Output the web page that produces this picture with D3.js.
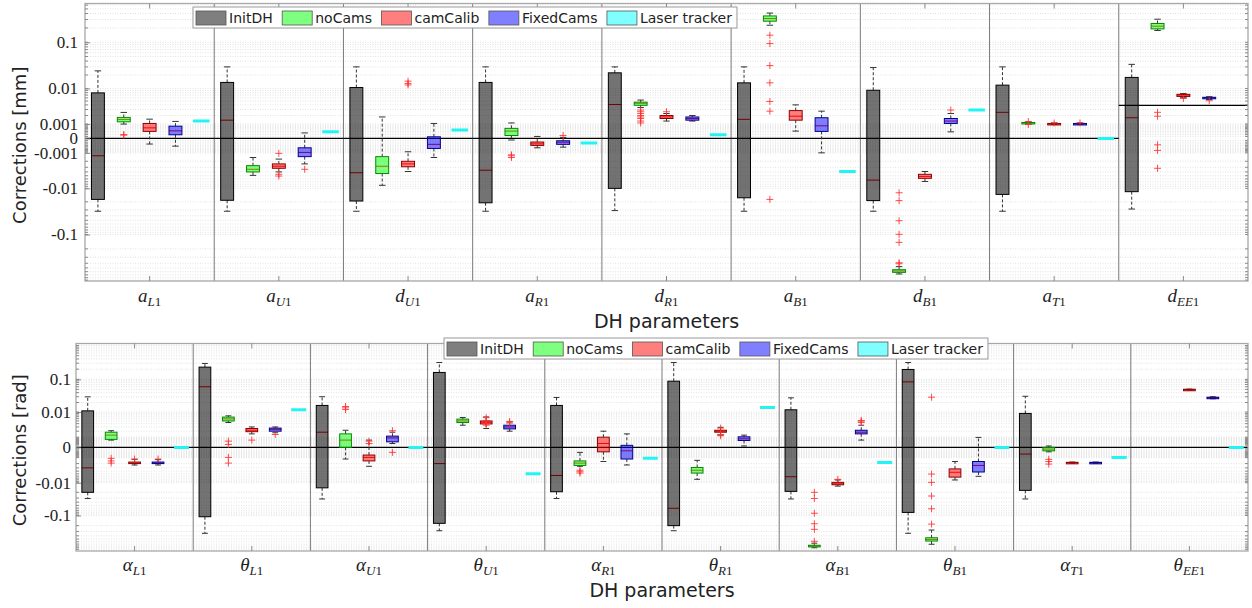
<!DOCTYPE html>
<html>
<head>
<meta charset="utf-8">
<script src="https://cdn.jsdelivr.net/npm/d3@7"></script>
<style>
  body { margin: 0; background: #fff; }
  svg { display: block; }
  text { font-family: "DejaVu Sans", sans-serif; }
</style>
</head>
<body>
<svg id="chart" width="1252" height="608"></svg>
<script>
const seriesNames = ["InitDH", "noCams", "camCalib", "FixedCams", "Laser tracker"];
const seriesColors = ["#000000", "#00ff00", "#ff0000", "#0000ff", "#00ffff"];

// ---------- top panel: length parameters [mm] ----------
const topParams = [["a","L1"],["a","U1"],["d","U1"],["a","R1"],["d","R1"],["a","B1"],["d","B1"],["a","T1"],["d","EE1"]];
const topTicks = [0.1, 0.01, 0.001, 0, -0.001, -0.01, -0.1];
// box stats: [lower whisker, q1, median, q3, upper whisker]
const topInitDH = [
  [-0.032, -0.0177, -0.0013, 0.0079, 0.0246],
  [-0.032, -0.0185, 0.0014, 0.0137, 0.030],
  [-0.032, -0.0192, -0.0042, 0.0105, 0.030],
  [-0.032, -0.021, -0.0036, 0.0137, 0.030],
  [-0.031, -0.010, 0.0041, 0.0223, 0.030],
  [-0.032, -0.0163, 0.0015, 0.0134, 0.030],
  [-0.032, -0.0188, -0.0064, 0.0091, 0.029],
  [-0.032, -0.0137, 0.0025, 0.0119, 0.030],
  [-0.0287, -0.0119, 0.0017, 0.0177, 0.034]
];
const topNoCams = [
  [0.00099, 0.00122, 0.00149, 0.00174, 0.00248],
  [-0.0049, -0.0040, -0.0034, -0.0027, -0.0015],
  [-0.0085, -0.0044, -0.0028, -0.0014, 0.0018],
  [-0.00008, 0.00015, 0.00042, 0.00062, 0.0011],
  [0.0034, 0.0039, 0.0044, 0.0047, 0.0053],
  [0.228, 0.277, 0.315, 0.357, 0.41],
  [-0.67, -0.62, -0.58, -0.546, -0.47],
  [0.001, 0.00105, 0.0011, 0.00115, 0.0012],
  [0.177, 0.191, 0.218, 0.248, 0.305]
];
const topNoCamsOut = [
  [0.00017, 0.0002], [], [], [-0.0012, -0.0013, -0.0015],
  [0.0029, 0.0026, 0.0023, 0.002, 0.0018, 0.0016, 0.0013, 0.0011],
  [0.141, 0.094, 0.032, 0.0134, 0.0049, 0.0027, -0.0177],
  [-0.0126, -0.0188, -0.051, -0.099, -0.146, -0.39, -0.41],
  [0.00095, 0.00125],
  [0.0025, 0.0019, -0.00036, -0.00078, -0.0032]
];
const topCamCalib = [
  [-0.00031, 0.0004, 0.00066, 0.00105, 0.00152],
  [-0.004, -0.0032, -0.0028, -0.0024, -0.0017],
  [-0.0039, -0.0029, -0.0024, -0.002, -0.0009],
  [-0.00057, -0.0004, -0.0003, -0.00019, 0.0001],
  [0.0013, 0.0016, 0.0018, 0.002, 0.0023],
  [0.00042, 0.0014, 0.0019, 0.0028, 0.004],
  [-0.0069, -0.0058, -0.0052, -0.0046, -0.0039],
  [0.00095, 0.001, 0.00102, 0.00105, 0.0011],
  [0.0062, 0.0065, 0.007, 0.0073, 0.0076]
];
const topCamCalibOut = [
  [], [-0.00105, -0.0046, -0.0051], [0.012, 0.013, 0.0146], [], [0.0026], [], [], [0.0011], [0.0058]
];
const topFixedCams = [
  [-0.00045, 0.00019, 0.00044, 0.0008, 0.00126],
  [-0.0024, -0.0014, -0.00096, -0.00057, 0.0003],
  [-0.0015, -0.00062, -0.00033, 0.00008, 0.00105],
  [-0.00052, -0.00033, -0.0002, -0.00012, 0.00005],
  [0.0013, 0.0014, 0.0016, 0.0018, 0.002],
  [-0.001, 0.0004, 0.00083, 0.0017, 0.0027],
  [0.00037, 0.00105, 0.0013, 0.0016, 0.0023],
  [0.00095, 0.001, 0.00102, 0.00105, 0.0011],
  [0.0055, 0.0057, 0.006, 0.0062, 0.0064]
];
const topFixedCamsOut = [[], [-0.0034], [], [0.00015], [], [], [0.0029], [0.0011], [0.0051]];
const topLaser = [0.0013, 0.00037, 0.00049, -0.00024, 0.00019, -0.0039, 0.0029, 0, null];
const topRefLine = [0, 0, 0, 0, 0, 0, 0, 0, 0.0039];

// ---------- bottom panel: angle parameters [rad] ----------
const botParams = [["α","L1"],["θ","L1"],["α","U1"],["θ","U1"],["α","R1"],["θ","R1"],["α","B1"],["θ","B1"],["α","T1"],["θ","EE1"]];
const botTicks = [0.1, 0.01, 0, -0.01, -0.1];
const botInitDH = [
  [-0.031, -0.020, -0.003, 0.0109, 0.0298],
  [-0.337, -0.109, 0.06, 0.23, 0.295],
  [-0.032, -0.0145, 0.0018, 0.0162, 0.030],
  [-0.283, -0.171, -0.002, 0.16, 0.315],
  [-0.031, -0.0192, -0.0057, 0.0162, 0.0285],
  [-0.283, -0.20, -0.061, 0.088, 0.315],
  [-0.032, -0.0187, -0.0063, 0.0118, 0.0278],
  [-0.337, -0.081, 0.084, 0.196, 0.315],
  [-0.032, -0.0174, -0.00057, 0.009, 0.031],
  null
];
const botNoCams = [
  [0.00064, 0.00072, 0.0013, 0.0018, 0.0021],
  [0.0044, 0.005, 0.0059, 0.0068, 0.0075],
  [-0.0012, 0, 0.00064, 0.0015, 0.0022],
  [0.0035, 0.0044, 0.005, 0.0058, 0.0066],
  [-0.0026, -0.0024, -0.0019, -0.0015, -0.0004],
  [-0.0077, -0.0047, -0.0037, -0.0029, -0.0014],
  [-0.9, -0.85, -0.8, -0.76, -0.66],
  [-0.71, -0.57, -0.51, -0.456, -0.27],
  [-0.00035, -0.00026, -0.00012, 0, 0.0001],
  null
];
const botNoCamsOut = [
  [-0.0011, -0.0015, -0.0019],
  [0.00053, 0.00022, -0.00097, -0.0019],
  [0.012, 0.0136, 0.015],
  [],
  [-0.0037, -0.0042, -0.0047],
  [],
  [-0.020, -0.031, -0.086, -0.176, -0.257, -0.58],
  [0.029, -0.0051, -0.0097, -0.026, -0.063, -0.18],
  [-0.00125, -0.0016, -0.0021],
  []
];
const botCamCalib = [
  [-0.0023, -0.002, -0.0019, -0.0017, -0.00125],
  [0.0015, 0.0019, 0.0022, 0.0026, 0.003],
  [-0.0026, -0.0015, -0.00097, -0.00068, 0.00064],
  [0.0026, 0.0039, 0.0045, 0.005, 0.0069],
  [-0.0016, -0.00035, 0.0003, 0.001, 0.002],
  [0.0013, 0.0018, 0.002, 0.0022, 0.0029],
  [-0.0128, -0.0116, -0.0108, -0.0097, -0.0081],
  [-0.0081, -0.0065, -0.0044, -0.0033, -0.0016],
  [-0.0019, -0.00185, -0.0018, -0.00175, -0.0017],
  [0.048, 0.049, 0.0498, 0.0505, 0.051]
];
const botCamCalibOut = [
  [-0.0012], [0.00064], [0.00053, 0.0003], [0.0065, 0.0052, 0.004, 0.0035], [],
  [0.0027, 0.0014, 0.0012], [-0.0077], [], [], []
];
const botFixedCams = [
  [-0.0023, -0.002, -0.0019, -0.0017, -0.0013],
  [0.0017, 0.002, 0.0024, 0.0027, 0.003],
  [0.0003, 0.00046, 0.0009, 0.00115, 0.0018],
  [0.002, 0.0025, 0.003, 0.0035, 0.0046],
  [-0.0023, -0.0012, -0.00026, 0.00015, 0.0015],
  [0.0001, 0.0006, 0.00079, 0.00105, 0.0013],
  [0.00064, 0.0015, 0.0018, 0.0022, 0.0035],
  [-0.0061, -0.0043, -0.0024, -0.0016, 0.00097],
  [-0.0019, -0.00185, -0.0018, -0.00175, -0.0017],
  [0.026, 0.027, 0.028, 0.029, 0.030]
];
const botFixedCamsOut = [
  [-0.0012], [0.0014], [0.0021, -0.0004], [0.0048, 0.0042], [], [], [0.0044, 0.0049, 0.0052], [], [], []
];
const botLaser = [0, 0.0118, 0, -0.005, -0.0011, 0.014, -0.0018, 0, -0.00097, 0];
const botRefLine = [0, 0, 0, 0, 0, 0, 0, 0, 0, 0];

const svg = d3.select("#chart");

function drawPanel(p) {
  const g = svg.append("g");
  const n = p.params.length;
  const x = d3.scaleBand().domain(d3.range(n)).range([p.left, p.right]);
  const xs = d3.scaleBand().domain(d3.range(5)).range([0, x.bandwidth()]);
  const y = d3.scaleSymlog().constant(0.001).domain(p.domain).range([p.bottom, p.top]);

  const clipId = "clip" + p.id;
  g.append("clipPath").attr("id", clipId).append("rect")
    .attr("x", p.left).attr("y", p.top)
    .attr("width", p.right - p.left).attr("height", p.bottom - p.top);

  // grid (minor + major)
  const minor = [];
  for (let e = -4; e <= 0; e++) {
    for (let k = 1; k <= 9; k++) {
      const v = k * Math.pow(10, e);
      if (v < p.domain[1]) minor.push(v);
      if (-v > p.domain[0]) minor.push(-v);
    }
  }
  const grid = g.append("g").attr("clip-path", `url(#${clipId})`);
  grid.selectAll("line.minor").data(minor).join("line")
    .attr("class", "minor")
    .attr("x1", p.left).attr("x2", p.right)
    .attr("y1", d => y(d)).attr("y2", d => y(d))
    .attr("stroke", "#dcdcdc").attr("stroke-width", 0.8)
    .attr("stroke-dasharray", "1,1.5");

  // group separators
  g.selectAll("line.sep").data(d3.range(1, n)).join("line")
    .attr("class", "sep")
    .attr("x1", d => x(d)).attr("x2", d => x(d))
    .attr("y1", p.top).attr("y2", p.bottom)
    .attr("stroke", "#7a7a7a").attr("stroke-width", 1);

  // reference (zero) line per group
  g.selectAll("line.ref").data(p.refLine).join("line")
    .attr("class", "ref")
    .attr("x1", (d, i) => x(i)).attr("x2", (d, i) => x(i) + x.bandwidth())
    .attr("y1", d => y(d)).attr("y2", d => y(d))
    .attr("stroke", "#000").attr("stroke-width", 1.2);

  const plot = g.append("g").attr("clip-path", `url(#${clipId})`);
  const bw = xs.bandwidth() * 0.5;

  p.boxes.forEach((series, s) => {
    const col = seriesColors[s];
    const edge = d3.interpolateRgb(col, "#000")(s === 0 ? 0.55 : 0.45);
    series.forEach((b, i) => {
      if (!b) return;
      const cx = x(i) + xs(s) + xs.bandwidth() / 2;
      const bg = plot.append("g");
      // whiskers
      bg.append("line").attr("x1", cx).attr("x2", cx).attr("y1", y(b[3])).attr("y2", y(b[4]))
        .attr("stroke", "#333").attr("stroke-dasharray", "3,2");
      bg.append("line").attr("x1", cx).attr("x2", cx).attr("y1", y(b[1])).attr("y2", y(b[0]))
        .attr("stroke", "#333").attr("stroke-dasharray", "3,2");
      [b[0], b[4]].forEach(v => {
        bg.append("line").attr("x1", cx - bw / 4).attr("x2", cx + bw / 4)
          .attr("y1", y(v)).attr("y2", y(v)).attr("stroke", "#333");
      });
      // median (red, seen through the box)
      bg.append("line").attr("x1", cx - bw / 2).attr("x2", cx + bw / 2)
        .attr("y1", y(b[2])).attr("y2", y(b[2])).attr("stroke", "#ff0000").attr("stroke-width", 1);
      const h = Math.max(y(b[1]) - y(b[3]), 1.5);
      bg.append("rect")
        .attr("x", cx - bw / 2).attr("y", y(b[3]))
        .attr("width", bw).attr("height", h)
        .attr("fill", col).attr("fill-opacity", s === 0 ? 0.55 : 0.5)
        .attr("stroke", edge).attr("stroke-width", 1);
      // outliers
      (p.outliers[s][i] || []).forEach(v => {
        const yy = y(v);
        bg.append("path")
          .attr("d", `M${cx - 3.5},${yy}H${cx + 3.5}M${cx},${yy - 3.5}V${yy + 3.5}`)
          .attr("stroke", "#ff3030").attr("stroke-width", 1).attr("stroke-opacity", 0.85);
      });
    });
  });

  // laser tracker reference values
  plot.selectAll("line.laser").data(p.laser).join("line")
    .filter(d => d !== null)
    .attr("class", "laser")
    .attr("x1", (d, i) => x(i) + xs(4) + xs.bandwidth() * 0.18)
    .attr("x2", (d, i) => x(i) + xs(4) + xs.bandwidth() * 0.82)
    .attr("y1", d => y(d)).attr("y2", d => y(d))
    .attr("stroke", "#22f4f4").attr("stroke-width", 3);

  // axes box and ticks
  g.append("rect")
    .attr("x", p.left).attr("y", p.top)
    .attr("width", p.right - p.left).attr("height", p.bottom - p.top)
    .attr("fill", "none").attr("stroke", "#a8a8a8").attr("stroke-width", 1.3);

  const tickG = g.append("g").attr("stroke", "#8a8a8a");
  minor.forEach(v => {
    tickG.append("line").attr("x1", p.left).attr("x2", p.left + 3).attr("y1", y(v)).attr("y2", y(v));
    tickG.append("line").attr("x1", p.right).attr("x2", p.right - 3).attr("y1", y(v)).attr("y2", y(v));
  });
  d3.range(n).forEach(i => {
    const cx = x(i) + x.bandwidth() / 2;
    tickG.append("line").attr("x1", cx).attr("x2", cx).attr("y1", p.bottom).attr("y2", p.bottom - 5);
    tickG.append("line").attr("x1", cx).attr("x2", cx).attr("y1", p.top).attr("y2", p.top + 5);
  });

  const yAxis = g.append("g")
    .attr("transform", `translate(${p.left},0)`)
    .call(d3.axisLeft(y).tickValues(p.ticks).tickFormat(d => String(d)).tickSize(-5).tickPadding(p.tickPad));
  yAxis.select(".domain").remove();
  yAxis.selectAll(".tick line").attr("stroke", "#8a8a8a");
  yAxis.selectAll("text")
    .style("font-family", "'Liberation Serif', serif")
    .style("font-size", "17px").attr("fill", "#222");

  // x tick labels (math style)
  p.params.forEach((par, i) => {
    const t = g.append("text")
      .attr("x", x(i) + x.bandwidth() / 2).attr("y", p.labelY)
      .attr("text-anchor", "middle")
      .style("font-family", "'Liberation Serif', serif")
      .attr("fill", "#222");
    t.append("tspan").style("font-style", "italic").style("font-size", "19px").text(par[0]);
    const sub = par[1].match(/^([A-Z]+)(\d*)$/);
    t.append("tspan").attr("dy", 4).style("font-style", "italic").style("font-size", "13px").text(sub[1]);
    t.append("tspan").style("font-size", "13px").text(sub[2]);
  });

  g.append("text")
    .attr("x", (p.left + p.right) / 2).attr("y", p.xTitleY)
    .attr("text-anchor", "middle").style("font-size", "19px").attr("fill", "#222")
    .text("DH parameters");

  g.append("text")
    .attr("transform", `translate(26,${(p.top + p.bottom) / 2 + 3}) rotate(-90)`)
    .attr("text-anchor", "middle").style("font-size", "18px").attr("fill", "#222")
    .text(p.yTitle);

  // legend
  const lg = g.append("g").attr("transform", `translate(${p.legendX},${p.legendY})`);
  const lbox = lg.append("rect").attr("height", 21).attr("fill", "#fff")
    .attr("stroke", "#9a9a9a").attr("stroke-width", 1);
  let lx = 3;
  seriesNames.forEach((name, s) => {
    lg.append("rect").attr("x", lx).attr("y", 4).attr("width", 30).attr("height", 14)
      .attr("fill", seriesColors[s]).attr("fill-opacity", 0.5)
      .attr("stroke", "#555").attr("stroke-width", 0.8);
    const txt = lg.append("text").attr("x", lx + 33).attr("y", 16)
      .style("font-size", "14px").attr("fill", "#222").text(name);
    lx += 33 + txt.node().getComputedTextLength() + 9.5;
  });
  lbox.attr("width", lx - 9.5 + 5);
}

drawPanel({
  id: "top", params: topParams, ticks: topTicks,
  boxes: [topInitDH, topNoCams, topCamCalib, topFixedCams],
  outliers: [[], topNoCamsOut, topCamCalibOut, topFixedCamsOut],
  laser: topLaser, refLine: topRefLine,
  domain: [-0.939, 0.649],
  left: 85, right: 1248, top: 3.5, bottom: 281,
  tickPad: 7, labelY: 302, xTitleY: 328,
  yTitle: "Corrections [mm]", legendX: 193, legendY: 7
});

drawPanel({
  id: "bot", params: botParams, ticks: botTicks,
  boxes: [botInitDH, botNoCams, botCamCalib, botFixedCams],
  outliers: [[], botNoCamsOut, botCamCalibOut, botFixedCamsOut],
  laser: botLaser, refLine: botRefLine,
  domain: [-1.121, 1.144],
  left: 76, right: 1248, top: 343.5, bottom: 551,
  tickPad: 5, labelY: 571, xTitleY: 597,
  yTitle: "Corrections [rad]", legendX: 444, legendY: 338
});
</script>
</body>
</html>
